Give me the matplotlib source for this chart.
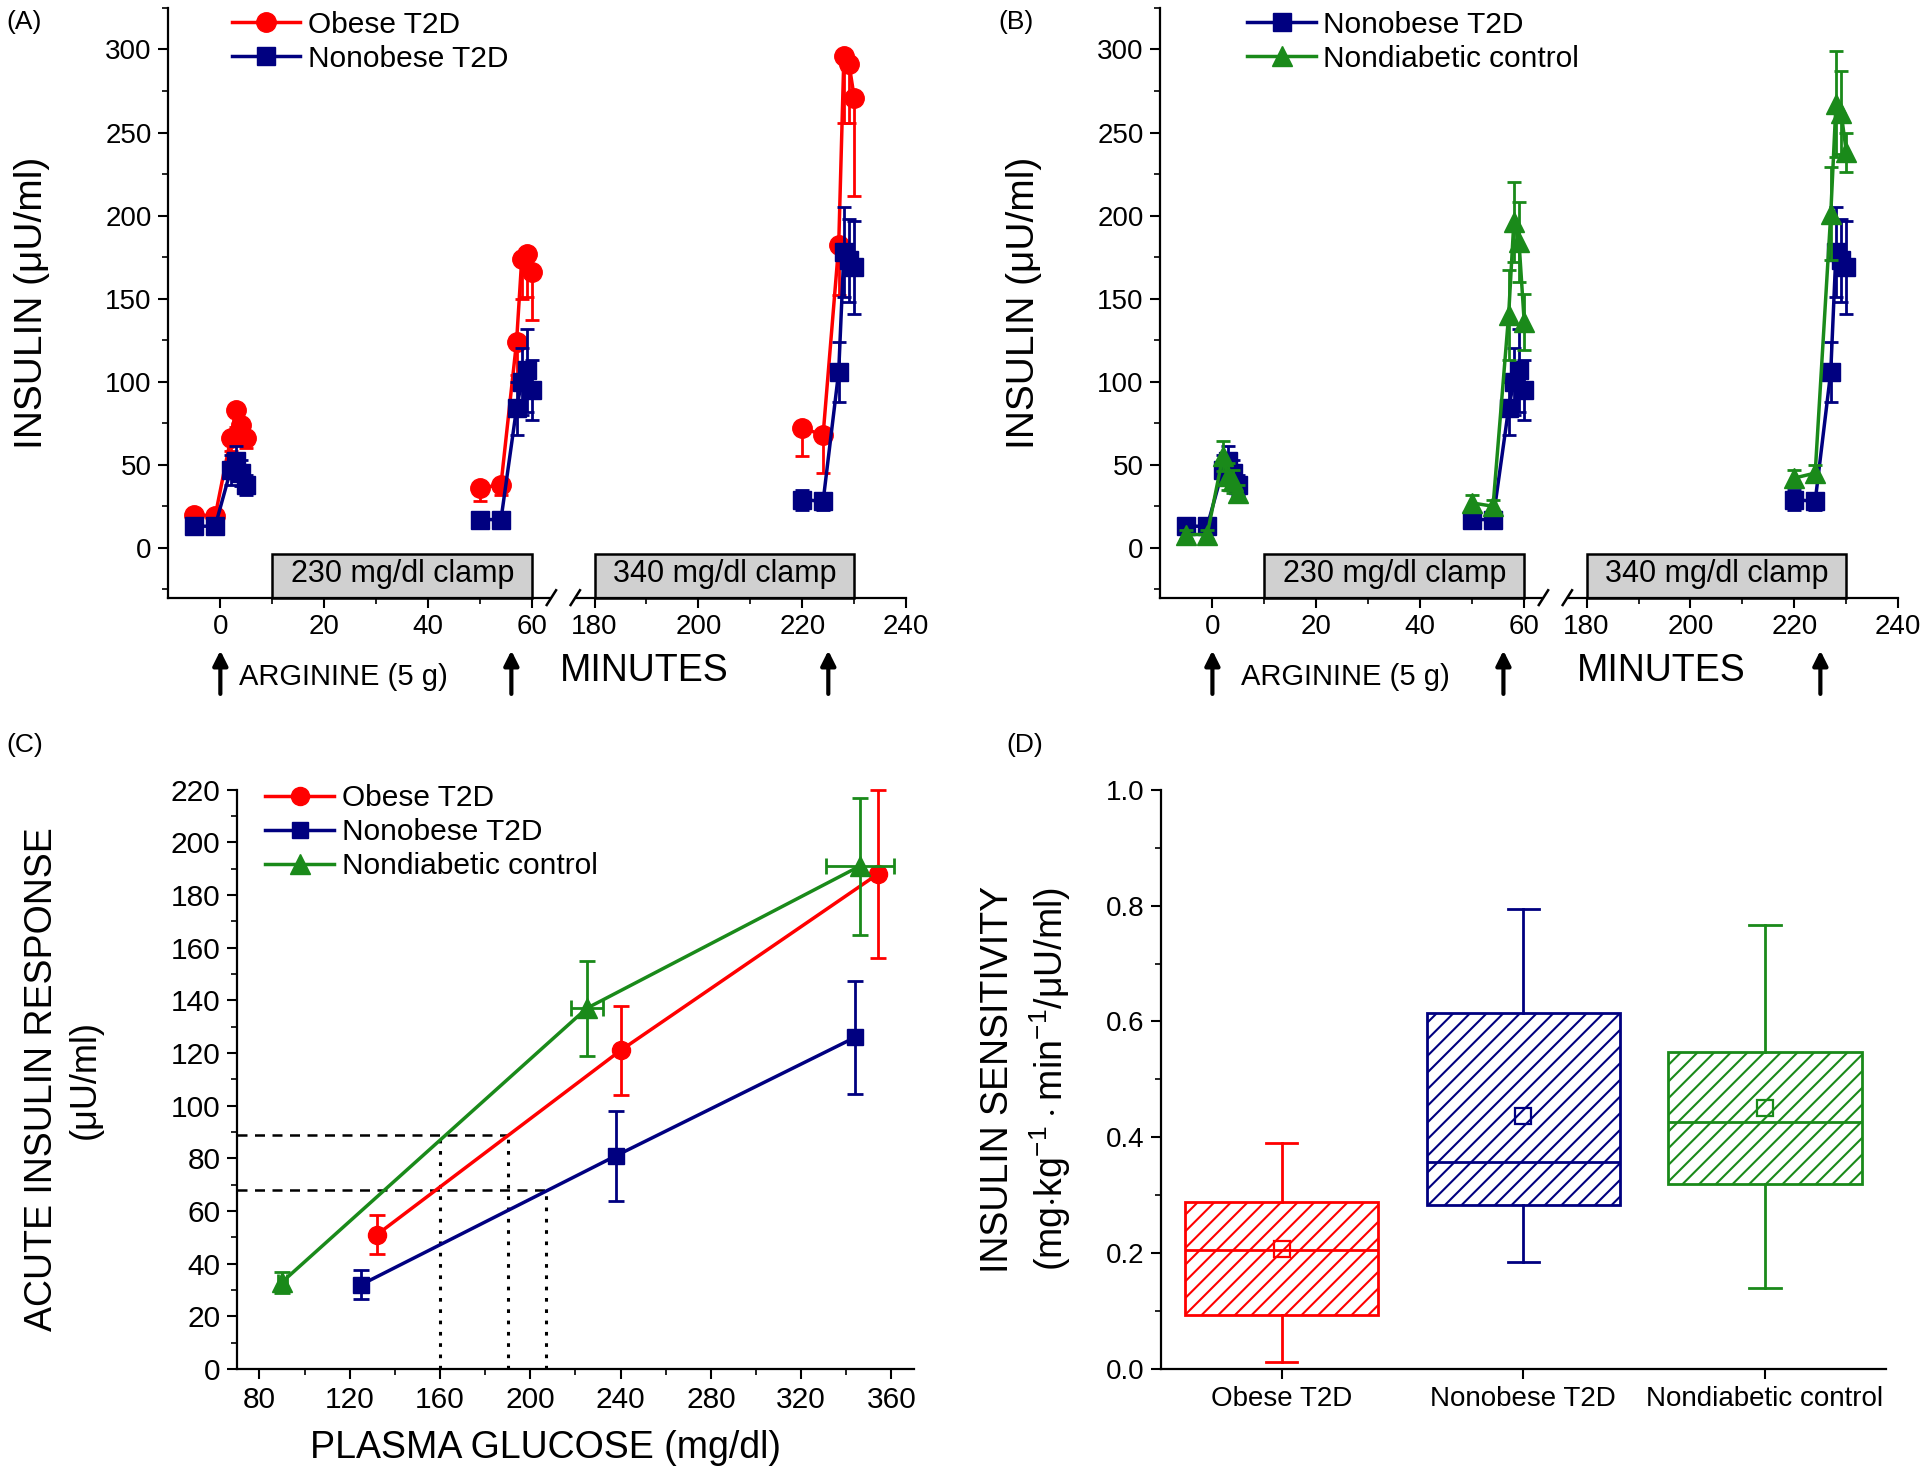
import numpy as np
import matplotlib
matplotlib.use("Agg")
import matplotlib.pyplot as plt
from matplotlib.lines import Line2D
from matplotlib.patches import Rectangle
from matplotlib.ticker import MultipleLocator, FormatStrFormatter

plt.rcParams['font.family'] = ['Liberation Sans', 'DejaVu Sans']
plt.rcParams['mathtext.fontset'] = 'custom'
plt.rcParams['mathtext.rm'] = 'Liberation Sans'
plt.rcParams['hatch.linewidth'] = 1.5
NARROW = ['Liberation Sans Narrow', 'Liberation Sans', 'DejaVu Sans']

RED = '#ff0000'
BLUE = '#000080'
GREEN = '#1a8a1a'

# ---- Panels A/B: insulin during arginine tests (minutes) ----
t_arg1 = [-5, -1, 2, 3, 4, 5]
t_arg2 = [50, 54, 57, 58, 59, 60]
t_arg3 = [220, 224, 227, 228, 229, 230]

obese_ins = [[20, 19, 66, 83, 74, 66], [36, 38, 124, 174, 177, 166], [72, 68, 182, 296, 291, 271]]
obese_sem = [[4, 3, 8, 10, 8, 6], [8, 6, 20, 24, 26, 29], [17, 23, 30, 40, 35, 59]]
nonobese_ins = [[13, 13, 47, 52, 45, 38], [17, 17, 84, 100, 107, 95], [29, 28, 106, 178, 173, 169]]
nonobese_sem = [[4, 4, 9, 9, 8, 6], [4, 4, 16, 20, 25, 18], [6, 5, 18, 27, 25, 28]]
control_ins = [[8, 8, 55, 43, 40, 33], [27, 25, 140, 196, 184, 136], [42, 45, 201, 267, 262, 238]]
control_sem = [[3, 3, 9, 8, 7, 5], [5, 4, 27, 24, 24, 17], [5, 5, 28, 32, 25, 12]]

arginine_times = [0, 56, 225]
clamps = [(10, 60, '230 mg/dl clamp'), (180, 230, '340 mg/dl clamp')]

# ---- Panel C: acute insulin response vs plasma glucose ----
glu_obese = [132, 240, 354]
air_obese = [51, 121, 188]
air_obese_err = [7.5, 17, 32]
glu_nonobese = [125, 238, 344]
air_nonobese = [32, 81, 126]
air_nonobese_err = [5.5, 17, 21.5]
glu_control = [90, 225, 346]
glu_control_err = [2, 7, 15]
air_control = [33, 137, 191]
air_control_err = [4, 18, 26]

guide_h = [(89, 190), (68, 207)]          # level, x end
guide_v = [(160, 89), (190, 89), (207, 68)]  # x, level

# ---- Panel D: insulin sensitivity box plots ----
groups = ['Obese T2D', 'Nonobese T2D', 'Nondiabetic control']
si_whislo = [0.012, 0.184, 0.139]
si_q1 = [0.094, 0.283, 0.320]
si_med = [0.205, 0.358, 0.427]
si_mean = [0.207, 0.437, 0.450]
si_q3 = [0.288, 0.615, 0.547]
si_whishi = [0.390, 0.795, 0.767]
group_colors = [RED, BLUE, GREEN]

fig = plt.figure(figsize=(19.2, 14.76), dpi=100)


def style_ticks(ax, labelsize):
    ax.tick_params(which='major', direction='out', length=7, width=1.5, labelsize=labelsize, pad=5)
    ax.tick_params(which='minor', direction='out', length=4, width=1.2)
    for s in ['top', 'right']:
        ax.spines[s].set_visible(False)
    for s in ['left', 'bottom']:
        ax.spines[s].set_linewidth(1.6)


def time_panel(left, series, tag, arg_x, min_x):
    axl = fig.add_axes([left, 0.5951, 0.2057, 0.3995])
    axr = fig.add_axes([left + 0.2057, 0.5951, 0.1786, 0.3995], sharey=axl)
    axr.patch.set_visible(False)
    for ax in (axl, axr):
        style_ticks(ax, 20)
    axr.spines['left'].set_visible(False)
    axr.tick_params(axis='y', which='both', left=False, labelleft=False)

    axl.set_xlim(-10, 66)
    axr.set_xlim(174, 240)
    axl.set_ylim(-30, 325)
    axl.spines['bottom'].set_bounds(-10, 63.5)
    axr.spines['bottom'].set_bounds(176.5, 240)
    axl.set_xticks([0, 20, 40, 60])
    axl.set_xticks([10, 30, 50], minor=True)
    axr.set_xticks([180, 200, 220, 240])
    axr.set_xticks([190, 210, 230], minor=True)
    axl.set_yticks([0, 50, 100, 150, 200, 250, 300])
    axl.yaxis.set_minor_locator(MultipleLocator(25))

    handles = []
    for name, color, marker, ms, ins, sem, lower_only in series:
        for k, (ax, times) in enumerate([(axl, t_arg1), (axl, t_arg2), (axr, t_arg3)]):
            err = sem[k]
            yerr = [err, [0] * len(err)] if lower_only else err
            ax.errorbar(times, ins[k], yerr=yerr, fmt='none', ecolor=color,
                        elinewidth=2, capsize=5, capthick=2)
            ax.plot(times, ins[k], color=color, marker=marker, ms=ms, lw=2.5)
        handles.append(Line2D([], [], color=color, marker=marker, ms=ms, lw=2.5, label=name))
    axl.legend(handles=handles, loc='upper left', bbox_to_anchor=(0.16 if tag == '(A)' else 0.22, 0.995),
               frameon=False, fontsize=21.5, handlelength=2.3, handletextpad=0.25,
               labelspacing=0.2, borderpad=0, borderaxespad=0)

    # clamp boxes
    for x0, x1, txt in clamps:
        ax = axl if x1 < 100 else axr
        ax.add_patch(Rectangle((x0, -30), x1 - x0, 26, fc='#d0d0d0', ec='black', lw=1.8,
                               zorder=1, clip_on=False))
        ax.text((x0 + x1) / 2, -16, txt, ha='center', va='center', fontsize=22, zorder=2)

    # axis break marks
    axl.plot([62.8, 64.6], [-0.0125, 0.0125], color='k', lw=1.8, clip_on=False,
             transform=axl.get_xaxis_transform())
    axr.plot([175.4, 177.2], [-0.0125, 0.0125], color='k', lw=1.8, clip_on=False,
             transform=axr.get_xaxis_transform())

    # arginine arrows
    for t in arginine_times:
        ax = axl if t < 100 else axr
        ax.annotate('', xy=(t, -0.085), xytext=(t, -0.168), xycoords=ax.get_xaxis_transform(),
                    textcoords=ax.get_xaxis_transform(),
                    arrowprops=dict(arrowstyle='-|>', lw=3, color='black', mutation_scale=22))
    axl.text(arg_x, -0.135, 'ARGININE (5 g)', transform=axl.get_xaxis_transform(),
             ha='left', va='center', fontsize=21)
    axr.text(min_x, -0.125, 'MINUTES', transform=axr.get_xaxis_transform(),
             ha='center', va='center', fontsize=27)

    axl.set_ylabel('INSULIN (μU/ml)', fontsize=28)
    axl.yaxis.set_label_coords(-0.30, 0.5)
    fig.text(left - 0.0845, 1 - 22 / 1476, tag, fontsize=19, ha='left', va='center')


time_panel(0.0877,
           [('Obese T2D', RED, 'o', 14, obese_ins, obese_sem, True),
            ('Nonobese T2D', BLUE, 's', 13, nonobese_ins, nonobese_sem, False)],
           '(A)', 3.5, 189.5)
time_panel(0.6044,
           [('Nonobese T2D', BLUE, 's', 13, nonobese_ins, nonobese_sem, False),
            ('Nondiabetic control', GREEN, '^', 15, control_ins, control_sem, False)],
           '(B)', 5.5, 194.4)

# ---- Panel C ----
axc = fig.add_axes([0.1234, 0.0725, 0.3526, 0.3924])
style_ticks(axc, 21.5)
axc.set_xlim(70, 370)
axc.set_ylim(0, 220)
axc.set_xticks(np.arange(80, 361, 40))
axc.xaxis.set_minor_locator(MultipleLocator(20))
axc.set_yticks(np.arange(0, 221, 20))
axc.yaxis.set_minor_locator(MultipleLocator(10))

for lvl, xe in guide_h:
    axc.plot([70, xe], [lvl, lvl], color='k', lw=1.8, ls=(0, (4, 3)))
for xv, lvl in guide_v:
    axc.plot([xv, xv], [0, lvl], color='k', lw=2.2, ls=(0, (1.2, 2.5)))

c_series = [('Obese T2D', RED, 'o', 13, glu_obese, air_obese, air_obese_err, None),
            ('Nonobese T2D', BLUE, 's', 12, glu_nonobese, air_nonobese, air_nonobese_err, None),
            ('Nondiabetic control', GREEN, '^', 14, glu_control, air_control, air_control_err, glu_control_err)]
for name, color, marker, ms, gx, gy, gyerr, gxerr in c_series:
    axc.errorbar(gx, gy, yerr=gyerr, xerr=gxerr, fmt='none', ecolor=color, elinewidth=2,
                 capsize=6, capthick=2, clip_on=False)
    axc.plot(gx, gy, color=color, marker=marker, ms=ms, lw=2.5, label=name, clip_on=False)
axc.legend(loc='upper left', bbox_to_anchor=(0.042, 1.01), frameon=False, fontsize=21.5,
           handlelength=2.3, handletextpad=0.25, labelspacing=0.2, borderpad=0, borderaxespad=0)
axc.text(-0.2886, 0.5, 'ACUTE INSULIN RESPONSE', rotation=90, transform=axc.transAxes,
         ha='center', va='center', fontsize=27)
axc.text(-0.2235, 0.5, '(μU/ml)', rotation=90, transform=axc.transAxes,
         ha='center', va='center', fontsize=26)
axc.text(0.456, -0.137, 'PLASMA GLUCOSE (mg/dl)', transform=axc.transAxes,
         ha='center', va='center', fontsize=27)
fig.text(6 / 1920, 1 - 745 / 1476, '(C)', fontsize=19, ha='left', va='center')

# ---- Panel D ----
axd = fig.add_axes([0.6046, 0.0725, 0.3776, 0.3924])
style_ticks(axd, 20)
stats = []
for i, g in enumerate(groups):
    stats.append(dict(label=g, whislo=si_whislo[i], q1=si_q1[i], med=si_med[i],
                      mean=si_mean[i], q3=si_q3[i], whishi=si_whishi[i], fliers=[]))
bp = axd.bxp(stats, positions=[1, 2, 3], widths=0.8, patch_artist=True, showmeans=True,
             showfliers=False, capwidths=0.13)
for i, c in enumerate(group_colors):
    box = bp['boxes'][i]
    box.set_facecolor('white')
    box.set_edgecolor(c)
    box.set_linewidth(2)
    box.set_hatch('//')
    bp['medians'][i].set(color=c, lw=2)
    for w in bp['whiskers'][2 * i:2 * i + 2]:
        w.set(color=c, lw=2)
    for cp in bp['caps'][2 * i:2 * i + 2]:
        cp.set(color=c, lw=2)
    bp['means'][i].set(marker='s', markerfacecolor='none', markeredgecolor=c, markersize=11,
                       markeredgewidth=1.6)
axd.set_xlim(0.5, 3.5)
axd.set_ylim(0, 1.0)
axd.set_yticks(np.arange(0, 1.01, 0.2))
axd.yaxis.set_minor_locator(MultipleLocator(0.1))
axd.yaxis.set_major_formatter(FormatStrFormatter('%.1f'))
axd.set_xticks([1, 2, 3])
axd.set_xticklabels(groups)
for lbl in axd.get_xticklabels() + axd.get_yticklabels():
    lbl.set_fontfamily(NARROW)
axd.text(-0.2246, 0.5, 'INSULIN SENSITIVITY', rotation=90, transform=axd.transAxes,
         ha='center', va='center', fontsize=27)
axd.text(-0.152, 0.5, r'(mg$\cdot$kg$^{-1}\cdot$min$^{-1}$/μU/ml)', rotation=90,
         transform=axd.transAxes, ha='center', va='center', fontsize=27)
fig.text(1006 / 1920, 1 - 745 / 1476, '(D)', fontsize=19, ha='left', va='center')

fig.savefig('out.png', dpi=100)
